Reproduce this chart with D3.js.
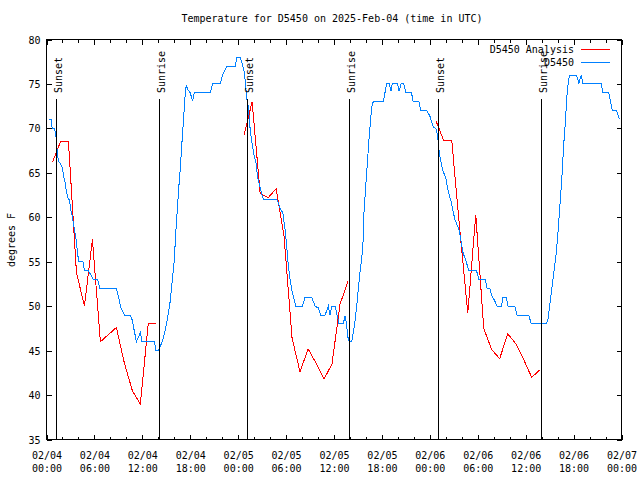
<!DOCTYPE html>
<html><head><meta charset="utf-8">
<script src="https://cdn.jsdelivr.net/npm/d3@7/dist/d3.min.js"></script>
<style>
body{margin:0;background:#fff;}
text{font-family:"DejaVu Sans Mono","Liberation Mono",monospace;font-size:10px;fill:#000;}
</style></head><body>
<svg id="c" width="640" height="480"></svg>
<script>
const titleText = "Temperature for D5450 on 2025-Feb-04 (time in UTC)";
const yLabel = "degrees F";
const seriesNames = ["D5450 Analysis", "D5450"];
const yTicks = [35,40,45,50,55,60,65,70,75,80];
const xMajorHours = [0,6,12,18,24,30,36,42,48,54,60,66,72];
const xTickDates = ["02/04","02/04","02/04","02/04","02/05","02/05","02/05","02/05","02/06","02/06","02/06","02/06","02/07"];
const xTickTimes = ["00:00","06:00","12:00","18:00","00:00","06:00","12:00","18:00","00:00","06:00","12:00","18:00","00:00"];
const sunsetHours = [1.15, 25.05, 49.08];
const sunriseHours = [14.03, 37.92, 61.95];

// Observations (hours since 02/04 00:00 UTC, deg F)
const obsHours = [0.29,0.59,0.71,1.0,1.16,1.25,1.38,1.5,1.75,2.0,2.16,2.38,2.5,2.75,2.88,3.0,3.25,3.5,3.71,3.88,4.04,4.56,4.75,5.25,5.5,5.88,6.41,6.66,8.75,9.04,9.25,9.75,10.5,10.71,10.91,11.13,11.25,11.46,11.75,11.96,13.5,13.71,14.04,14.25,14.5,14.66,14.88,15.09,15.29,15.5,15.63,15.79,15.91,16.04,16.13,16.34,16.54,16.75,16.96,17.16,17.38,17.5,17.66,18.0,18.29,18.5,20.5,20.79,21.75,22.04,22.59,23.63,23.84,24.25,24.46,24.79,25.09,25.29,25.5,25.79,26.0,26.25,26.41,26.66,26.96,27.16,28.84,29.04,29.25,29.59,29.88,30.09,30.29,30.5,30.79,31.21,32.04,32.38,33.21,33.63,34.04,34.34,34.88,35.29,35.5,35.71,36.13,36.41,36.63,37.16,37.38,37.59,37.71,37.91,38.21,38.41,38.63,38.84,39.04,39.25,39.46,39.66,39.75,40.09,40.41,40.71,40.91,42.16,42.38,42.59,42.94,43.13,43.29,43.94,44.16,44.38,44.75,45.0,45.71,45.91,46.63,46.88,47.59,48.0,48.21,48.41,48.84,49.04,49.16,49.34,49.66,50.0,50.29,50.71,51.13,51.66,52.16,52.59,52.88,53.84,54.16,54.96,55.16,55.5,55.79,56.13,56.41,56.96,57.16,57.59,57.79,58.63,58.91,60.38,60.71,62.59,62.79,63.0,63.21,63.41,63.63,63.84,64.04,64.16,64.34,64.54,64.75,64.96,65.16,65.38,65.5,66.34,66.66,66.96,67.16,69.46,69.66,70.41,70.59,70.84,71.34,71.54,71.75];
const obsTemps = [71,71,70,70,69.3,68.4,67,66.3,66,65.5,64.5,63.7,62.8,62,62,61,60,58.6,57.5,56,55,55,54,54,53.6,53,53,52,52,51,50,49,49,48.5,47.6,46.6,46,46.4,47,46,46,45,45,45.5,46,46.5,47.4,48.3,49.4,50.6,51.9,53.2,54.3,55.6,57.5,60.3,63.1,65.4,68.4,71,74,74.9,74.4,74,73.1,74,74,75,75,76,77,77,78,78,77.4,76.2,73.25,72.3,69.9,68,66.9,66.1,64.6,63.7,62.6,62,62,61.6,61,60.5,58.6,56.6,54.5,53,51.5,50,50,51,51,50,49.8,49,49,50,49,50,50,48.9,48,48,48.9,47.9,46.6,46,46,47,48.3,50,51.9,53.75,55.25,57.5,60.5,65,69.1,72.3,73,73,74,75,75,74.2,75,75,74.2,75,75,74,74,73,73,72,72,71.4,70.8,70.2,69.9,68.6,67.4,66.4,65.2,64.4,63,61.6,59.75,58.6,56,54.9,54,54,53,53,52,52,51.1,50.6,50,50,51,51,50,50,49,49,48,48,48.5,50,51.5,53,54.5,56,58.25,59.75,62,64.6,68,70.6,73.6,75.5,76,76,75.1,76,75,75,74,74,73.2,72,72,71.6,71];

// Analysis (hourly)
const anaHours = [0.75,1.75,2.75,3.75,4.75,5.75,6.75,7.75,8.75,9.75,10.75,11.75,12.75,13.75,
  24.75,25.75,26.75,27.75,28.75,29.75,30.75,31.75,32.75,33.75,34.75,35.75,36.75,37.75,
  48.75,49.75,50.75,51.75,52.75,53.75,54.75,55.75,56.75,57.75,58.75,59.75,60.75,61.75];
const anaTemps = [66.2,68.5,68.5,53.8,50,57.5,46,46.8,47.6,43.6,40.5,39,48.1,48.1,
  69.3,73,62.7,62.2,63.2,57.8,46.4,42.6,45.2,43.6,41.8,43.5,50.2,52.8,
  70.9,68.6,68.6,58.6,49.2,60.3,47.5,45.1,44.1,46.9,45.8,44.0,42.0,42.8];

const colors = {ana:"#ff0000", obs:"#0080ff"};

const svg = d3.select("#c");
const L=46.5, R=621.5, T=39.5, B=439.5;
const x = d3.scaleLinear().domain([0,72]).range([L,R]);
const y = d3.scaleLinear().domain([35,80]).range([B,T]);

svg.append("text").attr("x",332).attr("y",22).attr("text-anchor","middle").text(titleText);
svg.append("text").attr("transform","translate(15,240) rotate(-90)").attr("text-anchor","middle").text(yLabel);

const minorHours = d3.range(0,73,2).filter(h=>h%6!==0);

function styleAxis(g){
  g.attr("font-family",null).attr("font-size",null);
  g.selectAll(".domain").remove();
  g.selectAll("line").attr("stroke","#000").attr("shape-rendering","crispEdges");
}
const gb = svg.append("g").attr("transform",`translate(0,${B})`)
  .call(d3.axisBottom(x).tickValues(xMajorHours).tickSizeInner(-5).tickSizeOuter(0).tickPadding(0).tickFormat(()=>""));
styleAxis(gb);
gb.selectAll(".tick text").remove();
gb.selectAll(".tick").append("text").attr("text-anchor","middle")
  .each(function(d,i){
    const t=d3.select(this);
    t.append("tspan").attr("x",0).attr("y",19).text(xTickDates[i]);
    t.append("tspan").attr("x",0).attr("y",32).text(xTickTimes[i]);
  });
const gbm = svg.append("g").attr("transform",`translate(0,${B})`)
  .call(d3.axisBottom(x).tickValues(minorHours).tickSizeInner(-3).tickSizeOuter(0).tickFormat(()=>""));
styleAxis(gbm);
const gt = svg.append("g").attr("transform",`translate(0,${T})`)
  .call(d3.axisTop(x).tickValues(xMajorHours).tickSizeInner(-5).tickSizeOuter(0).tickFormat(()=>""));
styleAxis(gt);
const gtm = svg.append("g").attr("transform",`translate(0,${T})`)
  .call(d3.axisTop(x).tickValues(minorHours).tickSizeInner(-3).tickSizeOuter(0).tickFormat(()=>""));
styleAxis(gtm);
const gl = svg.append("g").attr("transform",`translate(${L},0)`)
  .call(d3.axisLeft(y).tickValues(yTicks).tickSizeInner(-5).tickSizeOuter(0).tickPadding(0).tickFormat(d3.format("d")));
styleAxis(gl);
gl.selectAll(".tick text").attr("x",-6).attr("dy","0.35em").attr("text-anchor","end");
const gr = svg.append("g").attr("transform",`translate(${R},0)`)
  .call(d3.axisRight(y).tickValues(yTicks).tickSizeInner(-5).tickSizeOuter(0).tickFormat(()=>""));
styleAxis(gr);

svg.append("rect").attr("x",L).attr("y",T).attr("width",R-L).attr("height",B-T)
  .attr("fill","none").attr("stroke","#000").attr("shape-rendering","crispEdges");

const anaPts = anaHours.map((h,i)=>({h,t:anaTemps[i]}));
const segs=[]; let cur=[];
anaPts.forEach((p,i)=>{
  if(i>0 && p.h-anaPts[i-1].h>1.5){segs.push(cur);cur=[];}
  cur.push(p);
});
segs.push(cur);
const line = d3.line().x(d=>x(d.h)).y(d=>y(d.t));
segs.forEach(s=>{
  svg.append("path").attr("d",line(s)).attr("fill","none").attr("stroke",colors.ana)
    .attr("stroke-width",1).attr("shape-rendering","crispEdges");
});
const obsPts = obsHours.map((h,i)=>({h,t:obsTemps[i]}));
svg.append("path").attr("d",line(obsPts)).attr("fill","none").attr("stroke",colors.obs)
  .attr("stroke-width",1).attr("shape-rendering","crispEdges");

function sunLine(h,label){
  const lx = Math.round(x(h))+0.5;
  svg.append("line").attr("x1",lx).attr("x2",lx).attr("y1",99).attr("y2",B)
    .attr("stroke","#000").attr("shape-rendering","crispEdges");
  svg.append("text").attr("transform",`translate(${lx+5.5},93) rotate(-90)`).attr("text-anchor","start").text(label);
}
sunsetHours.forEach(h=>sunLine(h,"Sunset"));
sunriseHours.forEach(h=>sunLine(h,"Sunrise"));

const leg = [{name:seriesNames[0],c:colors.ana,y:49.5},{name:seriesNames[1],c:colors.obs,y:62.5}];
leg.forEach(d=>{
  svg.append("text").attr("x",574).attr("y",d.y+3.5).attr("text-anchor","end").text(d.name);
  svg.append("line").attr("x1",581).attr("x2",610).attr("y1",d.y).attr("y2",d.y).attr("stroke",d.c)
    .attr("shape-rendering","crispEdges");
});
</script>
</body></html>
